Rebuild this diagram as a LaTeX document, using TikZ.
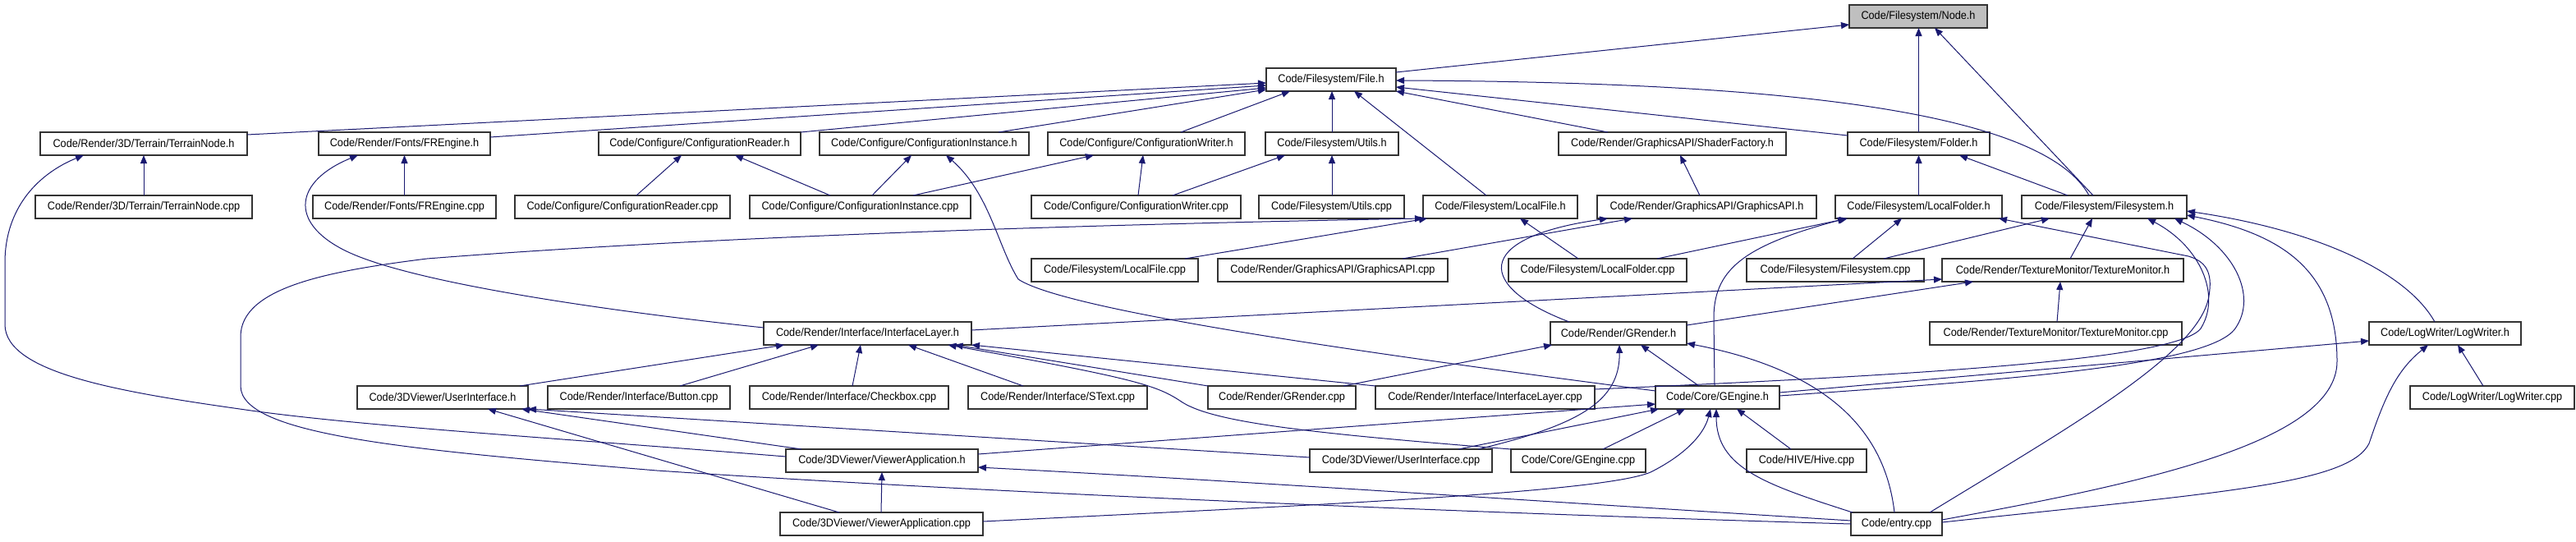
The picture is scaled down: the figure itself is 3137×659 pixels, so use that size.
\documentclass[tikz,border=0pt]{standalone}
\usepackage{fontspec}
\setmainfont{Liberation Sans}[FakeStretch=0.92]
\usetikzlibrary{arrows.meta}
\definecolor{edgec}{HTML}{191970}
\begin{document}
\begin{tikzpicture}[x=1pt,y=-1pt,
  box/.style={draw=black!80, line width=1.2pt, fill=white, minimum height=28pt, inner sep=0pt, outer sep=0pt, font=\fontsize{13.8}{16}\selectfont},
  edge/.style={draw=edgec, line width=1pt, -{Triangle[length=10pt,width=8pt]}}]
\fill[white] (0,0) rectangle (3137,659);
\useasboundingbox (0,0) rectangle (3137,659);
% row 0,1
\node[box, fill=black!25, minimum width=168pt] (nodeh) at (2336,20) {Code/Filesystem/Node.h};
\node[box, minimum width=158pt] (fileh) at (1621,97) {Code/Filesystem/File.h};
% row 2
\node[box, minimum width=252pt] (terrainh) at (175,175) {Code/Render/3D/Terrain/TerrainNode.h};
\node[box, minimum width=209pt] (frengh) at (492.5,175) {Code/Render/Fonts/FREngine.h};
\node[box, minimum width=246pt] (creadh) at (852,175) {Code/Configure/ConfigurationReader.h};
\node[box, minimum width=255pt] (cinsth) at (1125.5,175) {Code/Configure/ConfigurationInstance.h};
\node[box, minimum width=240pt] (cwrith) at (1396,175) {Code/Configure/ConfigurationWriter.h};
\node[box, minimum width=162pt] (utilsh) at (1622,175) {Code/Filesystem/Utils.h};
\node[box, minimum width=277pt] (shaderh) at (2036.5,175) {Code/Render/GraphicsAPI/ShaderFactory.h};
\node[box, minimum width=173pt] (folderh) at (2336.5,175) {Code/Filesystem/Folder.h};
% row 3
\node[box, minimum width=264pt] (terraincpp) at (175,252) {Code/Render/3D/Terrain/TerrainNode.cpp};
\node[box, minimum width=223pt] (frengcpp) at (492.5,252) {Code/Render/Fonts/FREngine.cpp};
\node[box, minimum width=262pt] (creadcpp) at (758,252) {Code/Configure/ConfigurationReader.cpp};
\node[box, minimum width=269pt] (cinstcpp) at (1047.5,252) {Code/Configure/ConfigurationInstance.cpp};
\node[box, minimum width=255pt] (cwritcpp) at (1383.5,252) {Code/Configure/ConfigurationWriter.cpp};
\node[box, minimum width=177pt] (utilscpp) at (1621.5,252) {Code/Filesystem/Utils.cpp};
\node[box, minimum width=188pt] (lfileh) at (1827,252) {Code/Filesystem/LocalFile.h};
\node[box, minimum width=267pt] (gapih) at (2078.5,252) {Code/Render/GraphicsAPI/GraphicsAPI.h};
\node[box, minimum width=203pt] (lfolderh) at (2336.5,252) {Code/Filesystem/LocalFolder.h};
\node[box, minimum width=201pt] (fsh) at (2562.5,252) {Code/Filesystem/Filesystem.h};
% row 4
\node[box, minimum width=203pt] (lfilecpp) at (1357.5,329) {Code/Filesystem/LocalFile.cpp};
\node[box, minimum width=280pt] (gapicpp) at (1623,329) {Code/Render/GraphicsAPI/GraphicsAPI.cpp};
\node[box, minimum width=217pt] (lfoldercpp) at (1945.5,329) {Code/Filesystem/LocalFolder.cpp};
\node[box, minimum width=216pt] (fscpp) at (2235,329) {Code/Filesystem/Filesystem.cpp};
\node[box, minimum width=294pt] (texh) at (2512,329) {Code/Render/TextureMonitor/TextureMonitor.h};
% row 5
\node[box, minimum width=253pt] (ilayerh) at (1056.5,406) {Code/Render/Interface/InterfaceLayer.h};
\node[box, minimum width=166pt] (grenderh) at (1971,406) {Code/Render/GRender.h};
\node[box, minimum width=307pt] (texcpp) at (2503.5,406) {Code/Render/TextureMonitor/TextureMonitor.cpp};
\node[box, minimum width=185pt] (logh) at (2977.5,406) {Code/LogWriter/LogWriter.h};
% row 6
\node[box, minimum width=208pt] (uih) at (539,484) {Code/3DViewer/UserInterface.h};
\node[box, minimum width=222pt] (buttoncpp) at (778,484) {Code/Render/Interface/Button.cpp};
\node[box, minimum width=242pt] (checkcpp) at (1034,484) {Code/Render/Interface/Checkbox.cpp};
\node[box, minimum width=218pt] (stextcpp) at (1288,484) {Code/Render/Interface/SText.cpp};
\node[box, minimum width=180pt] (grendercpp) at (1561,484) {Code/Render/GRender.cpp};
\node[box, minimum width=267pt] (ilayercpp) at (1808.5,484) {Code/Render/Interface/InterfaceLayer.cpp};
\node[box, minimum width=151pt] (gengineh) at (2091.5,484) {Code/Core/GEngine.h};
\node[box, minimum width=200pt] (logcpp) at (3035,484) {Code/LogWriter/LogWriter.cpp};
% row 7
\node[box, minimum width=234pt] (vah) at (1074,561) {Code/3DViewer/ViewerApplication.h};
\node[box, minimum width=222pt] (uicpp) at (1706,561) {Code/3DViewer/UserInterface.cpp};
\node[box, minimum width=164pt] (genginecpp) at (1922,561) {Code/Core/GEngine.cpp};
\node[box, minimum width=146pt] (hivecpp) at (2200,561) {Code/HIVE/Hive.cpp};
% row 8
\node[box, minimum width=247pt] (vacpp) at (1073.5,638) {Code/3DViewer/ViewerApplication.cpp};
\node[box, minimum width=111pt] (entrycpp) at (2309.5,638) {Code/entry.cpp};

% ---- edges into File.h and Node.h
\draw[edge] ([yshift=11pt]terrainh.east) -- ([yshift=-4pt]fileh.west);
\draw[edge] ([yshift=8pt]frengh.east) -- ([yshift=-7pt]fileh.west);
\draw[edge] (creadh.north east) -- ([yshift=-10pt]fileh.west);
\draw[edge] ([xshift=90.5pt]cinsth.north) -- ([yshift=-12pt]fileh.west);
\draw[edge] ([xshift=42pt]cwrith.north) -- ([xshift=-50pt]fileh.south);
\draw[edge] (utilsh.north) -- ([xshift=1pt]fileh.south);
\draw[edge] ([xshift=-17pt]lfileh.north) -- ([xshift=28pt]fileh.south);
\draw[edge] ([xshift=-78.5pt]shaderh.north) -- (fileh.south east);
\draw[edge] ([yshift=10pt]folderh.west) -- ([yshift=-9pt]fileh.east);
\draw[edge] ([xshift=-18.5pt]fsh.north) .. controls (2490,140) and (2200,100) .. ([yshift=-1pt]fileh.east);
\draw[edge] ([yshift=9pt]fileh.east) -- ([yshift=-10pt]nodeh.west);
\draw[edge] (folderh.north) -- ([xshift=0.5pt]nodeh.south);
\draw[edge] ([xshift=-13.5pt]fsh.north) -- ([xshift=20pt]nodeh.south);
% ---- row 3 -> row 2
\draw[edge] (terraincpp.north) -- (terrainh.south);
\draw[edge] (frengcpp.north) -- (frengh.south);
\draw[edge] ([xshift=17pt]creadcpp.north) -- ([xshift=-22pt]creadh.south);
\draw[edge] ([xshift=-36.5pt]cinstcpp.north) -- ([xshift=43pt]creadh.south);
\draw[edge] ([xshift=14.5pt]cinstcpp.north) -- ([xshift=-15.5pt]cinsth.south);
\draw[edge] ([xshift=64.5pt]cinstcpp.north) -- ([xshift=-64pt]cwrith.south);
\draw[edge] ([xshift=2.5pt]cwritcpp.north) -- ([xshift=-4pt]cwrith.south);
\draw[edge] ([xshift=44.5pt]cwritcpp.north) -- ([xshift=-57pt]utilsh.south);
\draw[edge] ([xshift=0.5pt]utilscpp.north) -- (utilsh.south);
\draw[edge] ([xshift=-8.5pt]gapih.north) -- ([xshift=9.5pt]shaderh.south);
\draw[edge] (lfolderh.north) -- (folderh.south);
\draw[edge] ([xshift=-44.5pt]fsh.north) -- ([xshift=49.5pt]folderh.south);
% ---- row 4 -> row 3
\draw[edge] ([xshift=85.5pt]lfilecpp.north) -- ([xshift=5pt]lfileh.south west);
\draw[edge] ([xshift=-23.5pt]lfoldercpp.north) -- ([xshift=24pt]lfileh.south);
\draw[edge] ([xshift=85pt]gapicpp.north) -- ([xshift=-90.5pt]gapih.south);
\draw[edge] ([xshift=72.5pt]lfoldercpp.north) -- ([xshift=-86.5pt]lfolderh.south);
\draw[edge] ([xshift=21pt]fscpp.north) -- ([xshift=-20.5pt]lfolderh.south);
\draw[edge] ([xshift=59pt]fscpp.north) -- ([xshift=-66.5pt]fsh.south);
\draw[edge] ([xshift=9pt]texh.north) -- ([xshift=-14.5pt]fsh.south);
% ---- GRender.h, TextureMonitor.h
\draw[edge] ([xshift=-60pt]grenderh.north) .. controls (1800,350) and (1790,290) .. ([xshift=-120.5pt]gapih.south);
\draw[edge] ([yshift=10pt]grenderh.east) -- ([xshift=-109pt]texh.south);
\draw[edge] ([yshift=4pt]ilayerh.east) -- ([yshift=-11pt]texh.west);
\draw[edge] ([xshift=1.5pt]texcpp.north) -- ([xshift=-3pt]texh.south);
\draw[edge] ([xshift=75pt]grendercpp.north) -- ([xshift=2pt]grenderh.south west);
\draw[edge] ([xshift=94pt]uicpp.north) .. controls (1920,518) and (1973,490) .. ([xshift=1pt]grenderh.south);
\draw[edge] ([xshift=-22.5pt]gengineh.north) -- ([xshift=27pt]grenderh.south);
\draw[edge] ([xshift=-2.5pt]entrycpp.north) .. controls (2295,520) and (2220,450) .. ([yshift=-12pt]grenderh.east);
% ---- GEngine.h
\draw[edge] ([yshift=8pt]vah.east) -- ([yshift=-8pt]gengineh.west);
\draw[edge] ([xshift=70pt]uicpp.north) -- ([xshift=4pt]gengineh.south west);
\draw[edge] ([xshift=30pt]genginecpp.north) -- ([xshift=-39.5pt]gengineh.south);
\draw[edge] ([yshift=3pt]vacpp.east) .. controls (1600,615) and (1950,600) .. (2010,575) .. controls (2050,555) and (2075,530) .. ([xshift=-8.5pt]gengineh.south);
\draw[edge] ([xshift=2pt]entrycpp.north west) .. controls (2150,590) and (2090,570) .. ([xshift=-1.5pt]gengineh.south);
\draw[edge] ([xshift=-19pt]hivecpp.north) -- ([xshift=23.5pt]gengineh.south);
\draw[edge] ([yshift=8pt]gengineh.west) .. controls (1700,435) and (1300,380) .. (1240,340) .. controls (1215,300) and (1205,235) .. ([xshift=26.5pt]cinsth.south);
\draw[edge] ([xshift=-3.5pt]gengineh.north) -- (2087,390) .. controls (2086,330) and (2120,300) .. ([xshift=-88.5pt]lfolderh.south);
\draw[edge] ([yshift=2pt]gengineh.east) .. controls (2450,462) and (2690,445) .. (2722,400) .. controls (2750,360) and (2720,300) .. ([xshift=85.5pt]fsh.south);
\draw[edge] ([yshift=6pt]gengineh.east) -- ([yshift=-9pt]logh.west);
\draw[edge] ([yshift=10pt]ilayercpp.east) .. controls (2300,458) and (2650,440) .. (2680,400) .. controls (2705,360) and (2680,300) .. ([xshift=52.5pt]fsh.south);
% ---- entry.cpp, LogWriter
\draw[edge] ([xshift=40.5pt]entrycpp.north) .. controls (2520,520) and (2680,430) .. (2690,360) .. controls (2695,330) and (2685,318) .. (2665,312) -- ([xshift=97.5pt]lfolderh.south);
\draw[edge] ([yshift=5pt]entrycpp.east) .. controls (2600,590) and (2846,540) .. (2846,440) .. controls (2846,330) and (2780,285) .. ([yshift=-10pt]fsh.east);
\draw[edge] ([xshift=-12.5pt]logh.north) .. controls (2930,330) and (2820,280) .. ([yshift=-5pt]fsh.east);
\draw[edge] ([yshift=2pt]entrycpp.east) .. controls (2700,600) and (2860,590) .. (2885,540) .. controls (2905,480) and (2920,450) .. ([xshift=-20.5pt]logh.south);
\draw[edge] ([xshift=-11pt]logcpp.north) -- ([xshift=15.5pt]logh.south);
% ---- InterfaceLayer.h
\draw[edge] ([xshift=94pt]uih.north) -- ([xshift=-101.5pt]ilayerh.south);
\draw[edge] ([xshift=50pt]buttoncpp.north) -- ([xshift=-59.5pt]ilayerh.south);
\draw[edge] ([xshift=4pt]checkcpp.north) -- ([xshift=-8.5pt]ilayerh.south);
\draw[edge] ([xshift=-42pt]stextcpp.north) -- ([xshift=49.5pt]ilayerh.south);
\draw[edge] (grendercpp.north west) -- ([xshift=106pt]ilayerh.south);
\draw[edge] (ilayercpp.north west) -- (ilayerh.south east);
\draw[edge] (genginecpp.north west) .. controls (1600,528) and (1480,515) .. (1440,490) .. controls (1410,470) and (1390,462) .. ([xshift=98pt]ilayerh.south);
\draw[edge] ([yshift=7pt]ilayerh.west) .. controls (750,380) and (500,345) .. (420,305) .. controls (350,270) and (360,220) .. ([xshift=-56.5pt]frengh.south);
% ---- UserInterface.h, ViewerApplication
\draw[edge] ([xshift=-98pt]vah.north) -- ([xshift=-8pt]uih.south east);
\draw[edge] ([yshift=4pt]uicpp.west) -- (uih.south east);
\draw[edge] ([xshift=-51.5pt]vacpp.north) -- ([xshift=55pt]uih.south);
\draw[edge] ([xshift=-0.5pt]vacpp.north) -- (vah.south);
\draw[edge] ([yshift=4pt]entrycpp.west) .. controls (1900,612) and (1500,585) .. ([yshift=-8pt]vah.east);
\draw[edge] ([yshift=5pt]vah.west) .. controls (700,535) and (450,520) .. (306,500) .. controls (150,478) and (6,455) .. (6,395) -- (6,320) .. controls (6,250) and (50,210) .. ([xshift=-73pt]terrainh.south);
\draw[edge] (entrycpp.west) .. controls (1800,625) and (1200,600) .. (800,573) .. controls (500,548) and (293,530) .. (293,470) -- (293,410) .. controls (293,350) and (400,330) .. (520,315) .. controls (900,285) and (1400,272) .. (lfileh.south west);
\end{tikzpicture}
\end{document}
